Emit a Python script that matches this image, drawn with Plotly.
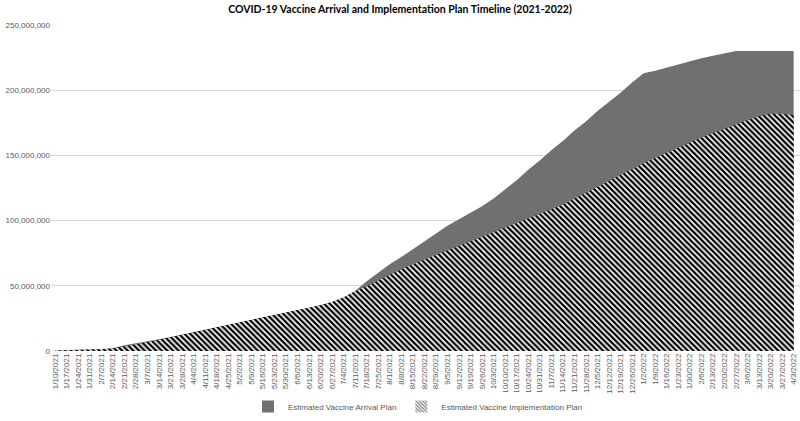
import plotly.graph_objects as go

dates = ["1/10/2021", "1/17/2021", "1/24/2021", "1/31/2021", "2/7/2021", "2/14/2021", "2/21/2021",
         "2/28/2021", "3/7/2021", "3/14/2021", "3/21/2021", "3/28/2021", "4/4/2021", "4/11/2021",
         "4/18/2021", "4/25/2021", "5/2/2021", "5/9/2021", "5/16/2021", "5/23/2021", "5/30/2021",
         "6/6/2021", "6/13/2021", "6/20/2021", "6/27/2021", "7/4/2021", "7/11/2021", "7/18/2021",
         "7/25/2021", "8/1/2021", "8/8/2021", "8/15/2021", "8/22/2021", "8/29/2021", "9/5/2021",
         "9/12/2021", "9/19/2021", "9/26/2021", "10/3/2021", "10/10/2021", "10/17/2021",
         "10/24/2021", "10/31/2021", "11/7/2021", "11/14/2021", "11/21/2021", "11/28/2021",
         "12/5/2021", "12/12/2021", "12/19/2021", "12/26/2021", "1/2/2022", "1/9/2022",
         "1/16/2022", "1/23/2022", "1/30/2022", "2/6/2022", "2/13/2022", "2/20/2022", "2/27/2022",
         "3/6/2022", "3/13/2022", "3/20/2022", "3/27/2022", "4/3/2022"]

# values in millions of doses
arrival_m = [0.3, 0.8, 1.0, 1.2, 1.4, 2.2, 4.5, 6.0, 7.3, 9.0, 10.8, 12.7, 14.6, 16.3,
             18.1, 20.0, 22.0, 24.0, 25.8, 27.6, 29.5, 31.3, 33.0, 35.0, 37.5, 41.0, 46.0,
             53.5, 60.0, 66.5, 72.0, 78.0, 84.0, 90.0, 96.0, 101.0, 106.0, 111.0, 117.0,
             124.0, 131.0, 139.0, 146.0, 154.0, 161.0, 169.0, 176.0, 184.0, 191.0, 198.0,
             206.0, 213.0, 215.0, 217.5, 220.0, 222.5, 224.5, 226.5, 228.5, 230.0, 230.0,
             230.0, 230.0, 230.0, 230.0]
implementation_m = [0.3, 0.8, 1.0, 1.2, 1.4, 2.0, 3.5, 5.0, 6.5, 8.5, 10.5, 12.5, 14.5, 16.2,
                    18.0, 20.0, 22.0, 24.0, 25.8, 27.6, 29.5, 31.3, 33.0, 35.0, 37.5, 41.0,
                    46.0, 49.5, 54.0, 58.5, 62.5, 66.5, 70.0, 73.7, 77.5, 81.0, 84.5, 88.0,
                    91.5, 95.0, 98.5, 102.0, 105.4, 108.8, 112.2, 116.8, 121.4, 126.0, 130.6,
                    135.2, 139.8, 144.0, 148.0, 152.0, 156.0, 160.0, 163.5, 167.0, 170.5,
                    174.0, 177.0, 180.0, 182.0, 182.0, 181.0]

y_ticks = [0, 50_000_000, 100_000_000, 150_000_000, 200_000_000, 250_000_000]

arrival = [v * 1_000_000 for v in arrival_m]
implementation = [v * 1_000_000 for v in implementation_m]
xi = list(range(len(dates)))

GRAY = "#707070"
hatch = dict(shape="\\", fgcolor="black", bgcolor="white", size=4, solidity=0.55,
             fillmode="replace")

fig = go.Figure()
fig.add_trace(go.Scatter(
    x=xi, y=arrival, name="Estimated Vaccine Arrival Plan",
    mode="lines", line=dict(width=0, color=GRAY),
    fill="tozeroy", fillcolor=GRAY, showlegend=False,
))
fig.add_trace(go.Scatter(
    x=xi, y=implementation, name="Estimated Vaccine Implementation Plan",
    mode="lines", line=dict(width=0, color="black"),
    fill="tozeroy", fillcolor="white", fillpattern=hatch, showlegend=False,
))
# legend entries (small square swatches, as in the reference)
fig.add_trace(go.Bar(x=[None], y=[None], name="Estimated Vaccine Arrival Plan",
                     marker=dict(color=GRAY, line=dict(width=0))))
fig.add_trace(go.Bar(x=[None], y=[None], name="Estimated Vaccine Implementation Plan",
                     marker=dict(color="white", line=dict(width=0),
                                 pattern=dict(shape="\\", fgcolor="black", bgcolor="white",
                                              size=3, solidity=0.5))))

fig.update_layout(
    width=800, height=421,
    margin=dict(l=51, r=0, t=25, b=67.5),
    paper_bgcolor="white", plot_bgcolor="white",
    title=dict(text="<b>COVID-19 Vaccine Arrival and Implementation Plan Timeline (2021-2022)</b>",
               x=0.5, xanchor="center", y=1 - 9 / 421, yanchor="middle",
               font=dict(family="Lato, Arial, sans-serif", size=10.5, color="#000000")),
    showlegend=True,
    legend=dict(orientation="h", x=0.49, xanchor="center", y=-0.172, yanchor="middle",
                font=dict(family="Arial, sans-serif", size=8, color="#595959"),
                itemwidth=30, traceorder="normal"),
    font=dict(family="Arial, sans-serif", color="#595959"),
)
fig.update_xaxes(
    tickmode="array", tickvals=xi, ticktext=dates, tickangle=-90,
    tickfont=dict(size=8, color="#595959"),
    range=[-0.35, len(dates) - 1 + 0.55],
    showgrid=False, zeroline=False, showline=False, ticks="", automargin=False,
    ticklabeloverflow="allow",
)
fig.update_yaxes(
    range=[0, 250_000_000], tickvals=y_ticks, tickformat=",d",
    tickfont=dict(size=8, color="#595959"),
    showgrid=True, gridcolor="#d9d9d9", gridwidth=1, zeroline=False,
    ticks="", automargin=False,
)

fig.write_html("out.html", config={"displayModeBar": False},
               post_script="document.body.style.margin='0';document.body.style.overflow='hidden';")
